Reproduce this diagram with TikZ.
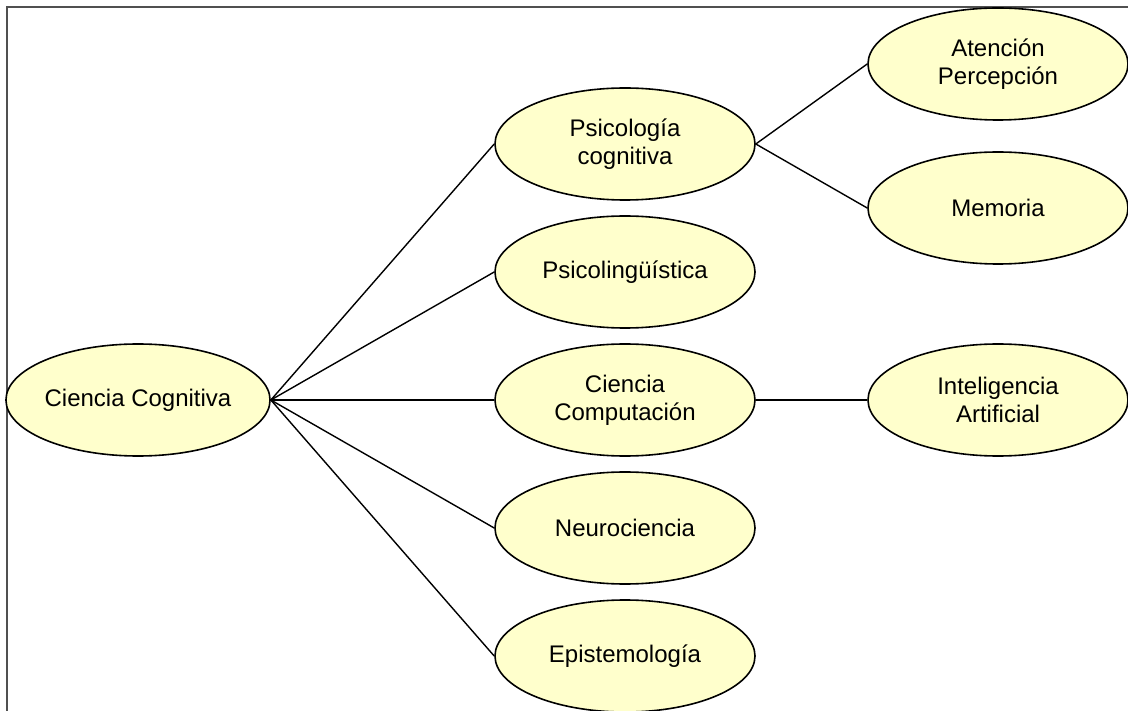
\documentclass[tikz,border=0pt]{standalone}
\usepackage{fontspec}
\setmainfont{Liberation Sans}
\usetikzlibrary{shapes.geometric}
\definecolor{bubble}{HTML}{FFFFCC}
\definecolor{framegray}{HTML}{505050}
\begin{document}
\begin{tikzpicture}[x=1pt,y=-1pt,
  topic/.style={ellipse, draw=black, line width=1.6pt, fill=bubble,
    minimum width=260pt, minimum height=112pt, inner sep=0pt,
    align=center, font=\fontsize{24}{28}\selectfont},
  link/.style={draw=black, line width=1.4pt}]
  \useasboundingbox (0,0) rectangle (1128,711);
  \fill[white] (0,0) rectangle (1128,711);
  % outer frame (top and left edges)
  \draw[framegray, line width=2pt] (7,711) -- (7,7) -- (1128,7);

  \node[topic] (cc)   at (138,400) {Ciencia Cognitiva};
  \node[topic] (psic) at (625,144) {Psicología\\cognitiva};
  \node[topic] (plin) at (625,272) {Psicolingüística};
  \node[topic] (comp) at (625,400) {Ciencia\\Computación};
  \node[topic] (neur) at (625,528) {Neurociencia};
  \node[topic] (epis) at (625,656) {Epistemología};
  \node[topic] (aten) at (998,64)  {Atención\\Percepción};
  \node[topic] (mem)  at (998,208) {Memoria};
  \node[topic] (ia)   at (998,400) {Inteligencia\\Artificial};

  \foreach \t in {psic,plin,comp,neur,epis}
    \draw[link] (cc.east) -- (\t.west);
  \draw[link] (psic.east) -- (aten.west);
  \draw[link] (psic.east) -- (mem.west);
  \draw[link] (comp.east) -- (ia.west);
\end{tikzpicture}
\end{document}
